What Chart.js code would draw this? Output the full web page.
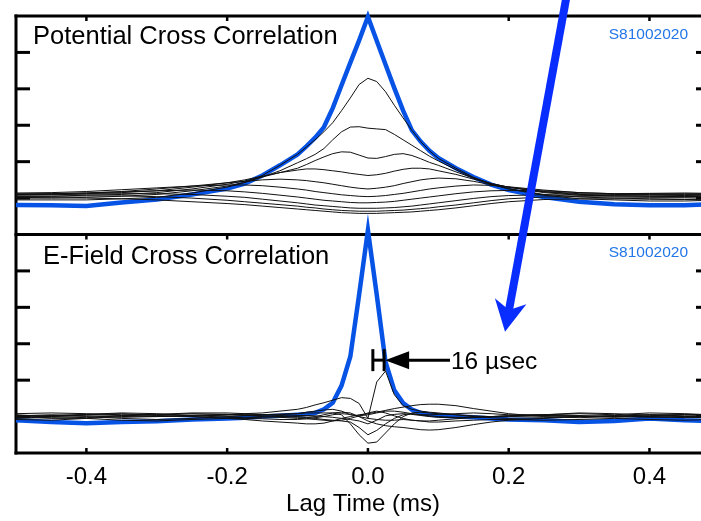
<!DOCTYPE html>
<html>
<head>
<meta charset="utf-8">
<script src="https://cdn.jsdelivr.net/npm/chart.js@4/dist/chart.umd.min.js"></script>
<style>
html,body{margin:0;padding:0;background:#fff;overflow:hidden;}
#wrap{width:712px;height:521px;}
</style>
</head>
<body>
<div id="wrap"><canvas id="c" width="712" height="521"></canvas></div>
<script>
// ---------- data ----------
const lagTime = [-0.5, -0.45, -0.4, -0.35, -0.3, -0.25, -0.2, -0.175, -0.15, -0.125, -0.1, -0.0875, -0.075, -0.0625, -0.05, -0.0375, -0.025, -0.0125, 0, 0.0125, 0.025, 0.0375, 0.05, 0.0625, 0.075, 0.0875, 0.1, 0.125, 0.15, 0.175, 0.2, 0.25, 0.3, 0.35, 0.4, 0.45, 0.486];

const xTickValues = [-0.4, -0.2, 0, 0.2, 0.4];
const xTickLabels = ['-0.4', '-0.2', '0.0', '0.2', '0.4'];
const yTickValues = [0, 1, 2, 3, 4];

// Potential cross correlation
const potentialTotal = [-0.19, -0.2, -0.22, -0.12, -0.04, 0.1, 0.26, 0.4, 0.62, 0.9, 1.2, 1.42, 1.66, 1.95, 2.47, 3.1, 3.72, 4.33, 4.98, 4.32, 3.67, 3.02, 2.4, 1.86, 1.55, 1.3, 1.1, 0.82, 0.58, 0.37, 0.22, 0.03, -0.1, -0.17, -0.2, -0.2, -0.17];
const potentialA = [-0.05, -0.05, -0.05, -0.02, 0.02, 0.14, 0.3, 0.43, 0.62, 0.9, 1.2, 1.4, 1.6, 1.82, 2.07, 2.4, 2.75, 3.12, 3.29, 3.2, 2.92, 2.55, 2.2, 1.86, 1.55, 1.3, 1.09, 0.82, 0.57, 0.38, 0.25, 0.08, -0.02, -0.05, -0.08, -0.08, -0.06];
const potentialB = [0.0, 0.0, 0.02, 0.05, 0.1, 0.2, 0.33, 0.43, 0.58, 0.75, 0.97, 1.08, 1.2, 1.36, 1.6, 1.82, 1.95, 1.96, 1.92, 1.9, 1.88, 1.75, 1.6, 1.45, 1.3, 1.15, 1.02, 0.78, 0.55, 0.38, 0.26, 0.1, 0.03, 0.0, -0.02, -0.03, -0.02];
const potentialC = [0.05, 0.05, 0.08, 0.1, 0.15, 0.25, 0.38, 0.47, 0.58, 0.7, 0.82, 0.92, 1.03, 1.13, 1.22, 1.27, 1.26, 1.18, 1.1, 1.09, 1.14, 1.2, 1.22, 1.17, 1.08, 0.98, 0.9, 0.72, 0.55, 0.4, 0.3, 0.15, 0.08, 0.06, 0.05, 0.04, 0.05];
const potentialD = [0.1, 0.1, 0.12, 0.15, 0.2, 0.3, 0.42, 0.5, 0.6, 0.7, 0.77, 0.8, 0.8, 0.78, 0.75, 0.72, 0.68, 0.65, 0.62, 0.64, 0.68, 0.74, 0.79, 0.82, 0.82, 0.8, 0.75, 0.65, 0.52, 0.4, 0.3, 0.17, 0.1, 0.08, 0.08, 0.07, 0.08];
const potentialE = [0.12, 0.12, 0.14, 0.18, 0.25, 0.33, 0.42, 0.46, 0.5, 0.52, 0.5, 0.48, 0.45, 0.42, 0.38, 0.34, 0.3, 0.27, 0.25, 0.27, 0.3, 0.34, 0.4, 0.45, 0.5, 0.53, 0.55, 0.53, 0.46, 0.37, 0.3, 0.18, 0.12, 0.1, 0.1, 0.1, 0.1];
const potentialF = [0.14, 0.15, 0.18, 0.23, 0.28, 0.33, 0.36, 0.36, 0.34, 0.3, 0.25, 0.22, 0.18, 0.15, 0.12, 0.09, 0.07, 0.05, 0.04, 0.05, 0.07, 0.1, 0.13, 0.17, 0.21, 0.25, 0.28, 0.33, 0.36, 0.35, 0.31, 0.22, 0.15, 0.12, 0.12, 0.12, 0.12];
const potentialG = [0.1, 0.12, 0.14, 0.17, 0.2, 0.22, 0.2, 0.17, 0.13, 0.08, 0.03, 0.0, -0.03, -0.06, -0.08, -0.1, -0.12, -0.13, -0.13, -0.12, -0.11, -0.09, -0.06, -0.03, 0.0, 0.03, 0.06, 0.12, 0.17, 0.2, 0.21, 0.2, 0.15, 0.12, 0.13, 0.14, 0.13];
const potentialH = [0.08, 0.09, 0.11, 0.12, 0.12, 0.1, 0.05, 0.02, -0.03, -0.08, -0.13, -0.16, -0.19, -0.21, -0.23, -0.25, -0.27, -0.28, -0.28, -0.28, -0.27, -0.26, -0.24, -0.22, -0.19, -0.16, -0.13, -0.07, -0.01, 0.04, 0.07, 0.09, 0.08, 0.06, 0.05, 0.05, 0.06];
const potentialI = [0.05, 0.05, 0.06, 0.06, 0.04, 0.0, -0.06, -0.1, -0.14, -0.18, -0.22, -0.25, -0.27, -0.3, -0.32, -0.34, -0.35, -0.36, -0.36, -0.36, -0.35, -0.34, -0.33, -0.31, -0.29, -0.27, -0.24, -0.19, -0.13, -0.07, -0.02, 0.03, 0.04, 0.03, 0.02, 0.02, 0.03];
const potentialJ = [0.02, 0.01, 0.0, -0.02, -0.05, -0.1, -0.15, -0.18, -0.22, -0.26, -0.3, -0.32, -0.34, -0.36, -0.38, -0.4, -0.41, -0.42, -0.42, -0.42, -0.41, -0.4, -0.39, -0.38, -0.36, -0.34, -0.32, -0.27, -0.21, -0.15, -0.1, -0.04, -0.02, -0.02, -0.03, -0.04, -0.03];

// E-field cross correlation
const efieldTotal = [-0.1, -0.15, -0.18, -0.15, -0.13, -0.08, -0.05, -0.03, 0.0, 0.02, 0.05, 0.07, 0.1, 0.2, 0.38, 0.85, 1.65, 3.35, 5.12, 3.35, 1.5, 0.72, 0.37, 0.19, 0.1, 0.06, 0.03, 0.0, -0.02, -0.05, -0.08, -0.1, -0.15, -0.12, -0.05, -0.1, -0.12];
const efieldK = [0.05, 0.0, 0.05, 0.08, 0.03, 0.0, 0.05, 0.08, 0.1, 0.15, 0.2, 0.25, 0.32, 0.38, 0.45, 0.52, 0.5, 0.36, -0.05, 0.95, 1.25, 0.6, 0.3, 0.2, 0.15, 0.12, 0.1, 0.05, 0.02, 0.0, 0.0, 0.02, 0.0, 0.0, 0.05, 0.05, 0.02];
const efieldL = [-0.05, -0.02, 0.0, -0.05, -0.08, -0.05, 0.0, 0.02, 0.05, 0.07, 0.08, 0.1, 0.1, 0.1, 0.1, 0.05, -0.2, -0.5, -0.73, -0.7, -0.45, -0.2, 0.0, 0.1, 0.12, 0.1, 0.08, 0.05, 0.0, -0.03, -0.05, -0.03, 0.0, 0.02, 0.0, -0.02, 0.0];
const efieldM = [0.0, 0.03, 0.05, 0.03, 0.0, 0.02, 0.04, 0.05, 0.05, 0.03, 0.0, -0.02, -0.05, -0.08, -0.1, -0.12, -0.15, -0.3, -0.5, -0.38, -0.2, -0.05, 0.05, 0.08, 0.05, 0.02, 0.0, -0.02, -0.02, 0.0, 0.02, 0.03, 0.02, 0.0, -0.02, 0.0, 0.02];
const efieldN = [0.0, -0.05, -0.05, 0.0, 0.02, 0.0, -0.05, -0.08, -0.12, -0.15, -0.18, -0.2, -0.2, -0.18, -0.12, -0.05, 0.0, 0.05, 0.08, 0.12, 0.17, 0.22, 0.26, 0.3, 0.33, 0.34, 0.34, 0.3, 0.22, 0.15, 0.08, 0.0, -0.03, 0.0, 0.05, 0.02, 0.0];
const efieldO = [0.02, 0.05, 0.02, -0.02, 0.0, 0.04, 0.06, 0.05, 0.02, 0.0, -0.02, -0.02, 0.0, 0.05, 0.1, 0.12, 0.1, 0.0, -0.12, -0.2, -0.25, -0.28, -0.3, -0.33, -0.36, -0.37, -0.36, -0.3, -0.22, -0.15, -0.1, -0.05, 0.0, 0.03, 0.0, -0.03, -0.02];
const efieldP = [0.08, 0.1, 0.08, 0.05, 0.06, 0.1, 0.1, 0.08, 0.05, 0.05, 0.08, 0.12, 0.15, 0.18, 0.2, 0.15, 0.05, 0.02, 0.05, 0.1, 0.15, 0.15, 0.12, 0.08, 0.05, 0.05, 0.06, 0.08, 0.1, 0.08, 0.05, 0.05, 0.08, 0.05, 0.1, 0.08, 0.05];
const efieldQ = [-0.08, -0.1, -0.05, -0.1, -0.12, -0.08, -0.05, -0.05, -0.06, -0.08, -0.08, -0.06, -0.03, 0.0, 0.05, 0.08, 0.06, 0.0, -0.05, -0.08, -0.1, -0.1, -0.08, -0.1, -0.12, -0.15, -0.15, -0.12, -0.1, -0.08, -0.08, -0.1, -0.08, -0.05, -0.08, -0.1, -0.08];
const efieldR = [0.03, 0.0, -0.03, 0.02, 0.05, 0.08, 0.06, 0.03, 0.0, -0.02, -0.05, -0.06, -0.08, -0.1, -0.12, -0.1, -0.05, 0.02, 0.1, 0.15, 0.1, 0.02, -0.05, -0.1, -0.12, -0.12, -0.1, -0.06, -0.03, 0.0, 0.02, 0.05, 0.03, -0.02, 0.02, 0.06, 0.05];
const efieldS = [-0.03, 0.02, 0.06, 0.1, 0.08, 0.03, -0.02, -0.03, -0.02, 0.0, 0.03, 0.03, 0.02, 0.0, -0.02, -0.05, -0.08, -0.12, -0.2, -0.1, 0.02, 0.06, 0.08, 0.06, 0.03, 0.0, -0.02, -0.03, -0.02, 0.0, 0.02, 0.05, 0.1, 0.08, 0.04, 0.0, -0.02];

const potentialBlack = [potentialA, potentialB, potentialC, potentialD, potentialE, potentialF, potentialG, potentialH, potentialI, potentialJ];
const efieldBlack = [efieldK, efieldL, efieldM, efieldN, efieldO, efieldP, efieldQ, efieldR, efieldS];

const panelTitles = ['Potential Cross Correlation', 'E-Field Cross Correlation'];
const runLabel = 'S81002020';
const lagNote = '16 \u00B5sec';
const axisTitle = 'Lag Time (ms)';

// ---------- styling ----------
const FAMILY = "'Liberation Sans', Arial, Helvetica, sans-serif";
const BLUE = '#0653e6';
const ARROW_BLUE = '#0a2dff';
const LABEL_BLUE = '#2276e8';
Chart.defaults.font.family = FAMILY;
Chart.defaults.color = '#000';

function pts(ys) { return lagTime.map((x, i) => ({ x: x, y: ys[i] })); }

const datasets = [];
potentialBlack.forEach(ys => datasets.push({ data: pts(ys), yAxisID: 'yT', borderColor: '#111', borderWidth: 1, pointRadius: 0, order: 0 }));
datasets.push({ data: pts(potentialTotal), yAxisID: 'yT', borderColor: BLUE, borderWidth: 4.5, pointRadius: 0, order: 1, clip: false });
efieldBlack.forEach(ys => datasets.push({ data: pts(ys), yAxisID: 'yB', borderColor: '#111', borderWidth: 1, pointRadius: 0, order: 0 }));
datasets.push({ data: pts(efieldTotal), yAxisID: 'yB', borderColor: BLUE, borderWidth: 4.5, pointRadius: 0, order: 1, clip: false });

function seg(ctx, x1, y1, x2, y2) { ctx.beginPath(); ctx.moveTo(x1, y1); ctx.lineTo(x2, y2); ctx.stroke(); }

const frame = {
  id: 'frame',
  beforeDatasetsDraw(chart) {
    const { ctx, chartArea: ca, scales } = chart;
    const x = scales.x, yT = scales.yT, yB = scales.yB;
    const L = ca.left, R = ca.right;
    ctx.save();
    ctx.strokeStyle = '#000';
    ctx.lineCap = 'butt';
    ctx.lineWidth = 3;
    seg(ctx, L - 1.5, yT.top, R + 2, yT.top);
    seg(ctx, L - 1.5, yB.top, R + 2, yB.top);
    seg(ctx, L - 1.5, yB.bottom, R + 2, yB.bottom);
    seg(ctx, L, yT.top - 1.5, L, yB.bottom + 1.5);
    seg(ctx, R, yT.top - 1.5, R, yB.bottom + 1.5);
    // y ticks (inside, left and right)
    [yT, yB].forEach(s => {
      yTickValues.forEach(v => {
        const py = s.getPixelForValue(v);
        seg(ctx, L, py, L + 14, py);
        seg(ctx, R - 14, py, R, py);
      });
    });
    // x ticks (inside)
    ctx.lineWidth = 2.5;
    xTickValues.forEach(v => {
      const px = x.getPixelForValue(v);
      seg(ctx, px, yT.top, px, yT.top + 5);
      seg(ctx, px, yB.top, px, yB.top + 5);
      seg(ctx, px, yB.bottom, px, yB.bottom - 5);
    });
    ctx.restore();
  },
  afterDatasetsDraw(chart) {
    const { ctx, chartArea: ca, scales } = chart;
    const x = scales.x, yT = scales.yT, yB = scales.yB;
    ctx.save();
    // panel titles
    ctx.fillStyle = '#000';
    ctx.textBaseline = 'alphabetic';
    ctx.textAlign = 'left';
    ctx.font = '25.5px ' + FAMILY;
    ctx.fillText(panelTitles[0], ca.left + 17, yT.top + 28);
    ctx.fillText(panelTitles[1], ca.left + 27, yB.top + 29);
    // run labels
    ctx.fillStyle = LABEL_BLUE;
    ctx.textAlign = 'right';
    ctx.font = '15.5px ' + FAMILY;
    ctx.fillText(runLabel, ca.right - 22, yT.top + 22.5);
    ctx.fillText(runLabel, ca.right - 22, yB.top + 22.5);

    // "16 usec" bracket annotation (bottom panel, data coordinates)
    const by = yB.getPixelForValue(1.55);
    const bx1 = x.getPixelForValue(0.007), bx2 = x.getPixelForValue(0.023);
    const tail = x.getPixelForValue(0.1166);
    ctx.strokeStyle = '#000';
    ctx.fillStyle = '#000';
    ctx.lineWidth = 3;
    seg(ctx, bx1, by - 11, bx1, by + 11);
    seg(ctx, bx2, by - 11, bx2, by + 11);
    seg(ctx, bx1, by, bx2, by);
    ctx.beginPath();
    ctx.moveTo(bx2 + 1, by);
    ctx.lineTo(bx2 + 25, by - 9);
    ctx.lineTo(bx2 + 25, by + 9);
    ctx.closePath();
    ctx.fill();
    seg(ctx, bx2 + 24, by, tail, by);
    ctx.textAlign = 'left';
    ctx.font = '24.5px ' + FAMILY;
    ctx.fillText(lagNote, tail + 1, by + 8.5);

    // big blue arrow (bottom-panel data coordinates)
    const sx = x.getPixelForValue(0.2839), sy = yB.getPixelForValue(11.72);
    const tx = x.getPixelForValue(0.1948), ty = yB.getPixelForValue(2.33);
    const dx = tx - sx, dy = ty - sy, len = Math.hypot(dx, dy);
    const ux = dx / len, uy = dy / len, nx = -uy, ny = ux;
    const headLen = 31, notch = 22, half = 16;
    ctx.strokeStyle = ARROW_BLUE;
    ctx.fillStyle = ARROW_BLUE;
    ctx.lineWidth = 8;
    seg(ctx, sx, sy, tx - ux * notch, ty - uy * notch);
    const bxm = tx - ux * headLen, bym = ty - uy * headLen;
    ctx.beginPath();
    ctx.moveTo(tx, ty);
    ctx.lineTo(bxm + nx * half, bym + ny * half);
    ctx.lineTo(tx - ux * notch, ty - uy * notch);
    ctx.lineTo(bxm - nx * half, bym - ny * half);
    ctx.closePath();
    ctx.fill();
    ctx.restore();
  }
};

const yScale = {
  type: 'linear', position: 'left', stack: 'panels', stackWeight: 1,
  min: -1, max: 5,
  grid: { display: false, drawTicks: false }, border: { display: false },
  ticks: { display: false },
  afterFit: s => { s.width = 0; }
};

new Chart(document.getElementById('c'), {
  type: 'line',
  data: { datasets: datasets },
  options: {
    responsive: false, animation: false, events: [],
    devicePixelRatio: 1,
    layout: { padding: { top: 16, left: 16, right: 2, bottom: 0 } },
    elements: { line: { tension: 0, borderJoinStyle: 'miter' } },
    plugins: { legend: { display: false }, tooltip: { enabled: false } },
    scales: {
      x: {
        type: 'linear', position: 'bottom', min: -0.5, max: 0.486,
        grid: { display: false, drawTicks: false }, border: { display: false },
        afterBuildTicks: s => { s.ticks = xTickValues.map(v => ({ value: v })); },
        ticks: { font: { size: 24 }, color: '#000', padding: 10, maxRotation: 0, autoSkip: false,
                 callback: v => xTickLabels[xTickValues.indexOf(v)] },
        title: { display: true, text: axisTitle, font: { size: 24 }, color: '#000', padding: { top: 0, bottom: 2 } },
        afterFit: s => { s.height = 68; }
      },
      yB: Object.assign({}, yScale),
      yT: Object.assign({}, yScale)
    }
  },
  plugins: [frame]
});
</script>
</body>
</html>
